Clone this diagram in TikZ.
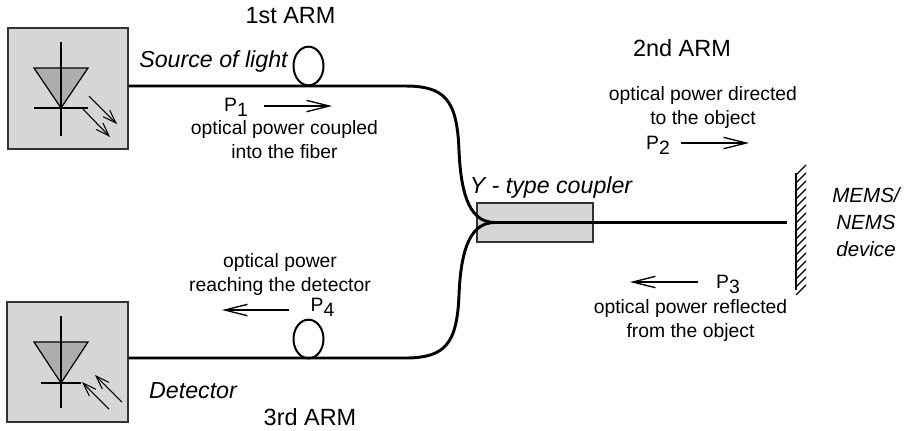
\documentclass[tikz,border=0pt]{standalone}
\usepackage{fontspec}
\setmainfont{Liberation Sans}
\usetikzlibrary{arrows.meta,shapes.geometric}
\newcommand{\psub}[1]{P\raisebox{-0.3em}{#1}}
\tikzset{
  boxgray/.style={draw=black!80,fill=black!16,line width=1.1pt,inner sep=0pt},
  fiber/.style={line width=2.2pt},
  power/.style={-{Straight Barb[length=17pt,width=8.5pt]},line width=1pt},
  ray/.style={-{Straight Barb[length=10pt,width=7pt]},line width=0.8pt},
  diode/.style={line width=0.9pt},
  fiberloop/.style={draw,ellipse,line width=1.5pt,minimum width=22.5pt,minimum height=29pt,inner sep=0pt},
  txt/.style={inner sep=0pt,align=center,font=\fontsize{14.5}{18}\selectfont},
  tag/.style={inner sep=0pt,anchor=base,font=\fontsize{17.4}{20}\selectfont\itshape},
  arm/.style={inner sep=0pt,anchor=base,font=\fontsize{17.6}{20}\selectfont},
  pow/.style={inner sep=0pt,anchor=base,font=\fontsize{14.5}{18}\selectfont}
}
\begin{document}
\begin{tikzpicture}[x=0.75pt,y=-0.75pt]
\useasboundingbox (0,0) rectangle (906,430);

% Boxes
\node[boxgray,minimum width=90pt,minimum height=90.5pt] (source) at (68,88.5) {};
\node[boxgray,minimum width=90.5pt,minimum height=90pt] (detector) at (67.5,362) {};
\node[boxgray,minimum width=87pt,minimum height=29.5pt] (coupler) at (535,222.5) {};

% Source diode
\fill[black!32] (34,68)--(88,68)--(61,108)--cycle;
\draw[diode] (34,68)--(88,68)--(61,108)--cycle;
\draw[diode] (61,42)--(61,136);
\draw[diode] (34,108)--(88,108);
\draw[ray] (89,96)--(117,124);
\draw[ray] (83,109)--(110,137);

% Detector diode
\fill[black!32] (34,342)--(88,342)--(61,383)--cycle;
\draw[diode] (34,342)--(88,342)--(61,383)--cycle;
\draw[diode] (61,316)--(61,408);
\draw[diode] (41,383)--(81,383);
\draw[ray] (122,402)--(95,375);
\draw[ray] (109,409)--(82,382);

% Fiber
\coordinate (join) at (495,222.5);
\node[inner sep=0pt,minimum size=0pt] (device) at (787,222.5) {};
\draw[fiber] (source.east |- 0,86) -- (405,86)
  .. controls (445,86) and (457,100) .. (459,150)
  .. controls (461,200) and (472,222.5) .. (join);
\draw[fiber] (detector.east |- 0,358) -- (405,358)
  .. controls (445,358) and (457,344) .. (459,295)
  .. controls (461,245) and (472,222.5) .. (join);
\draw[fiber,line width=1.8pt] (join) -- (device);

% Fiber loops
\node[fiberloop] (loopa) at (308.5,66) {};
\node[fiberloop] (loopb) at (308.5,339) {};

% Mirror
\draw[line width=1.2pt] (796,173)--(796,290);
\foreach \y in {175,183,...,295}
  \draw[line width=1pt] (796,\y)--(806,\y-10);

% Power arrows
\draw[power] (264,106)--(332,106);
\draw[power] (681,143)--(749,143);
\draw[power] (698,282)--(630,282);
\draw[power] (289,310)--(222,310);

% Labels
\node[arm] (armone) at (290.5,23) {1st ARM};
\node[arm] (armtwo) at (682,56) {2nd ARM};
\node[arm] (armthree) at (310,425) {3rd ARM};
\node[tag] (sourcelabel) at (213.5,67) {Source of light};
\node[tag] (detectorlabel) at (193,398) {Detector};
\node[tag] (couplerlabel) at (551,193) {Y - type coupler};
\node[txt,font=\fontsize{15.4}{20}\selectfont\itshape] (devicelabel) at (866,222) {MEMS/\\NEMS\\device};
\node[pow] (pone) at (236,111) {\psub{1}};
\node[pow] (ptwo) at (658,149) {\psub{2}};
\node[pow] (pthree) at (728,288) {\psub{3}};
\node[pow] (pfour) at (322.5,311) {\psub{4}};
\node[txt] (textone) at (284.5,140) {optical power coupled\\into the fiber};
\node[txt] (texttwo) at (703,107) {optical power directed\\to the object};
\node[txt] (textthree) at (690.5,320) {optical power reflected\\from the object};
\node[txt] (textfour) at (280,274) {optical power\\reaching the detector};

\end{tikzpicture}
\end{document}
